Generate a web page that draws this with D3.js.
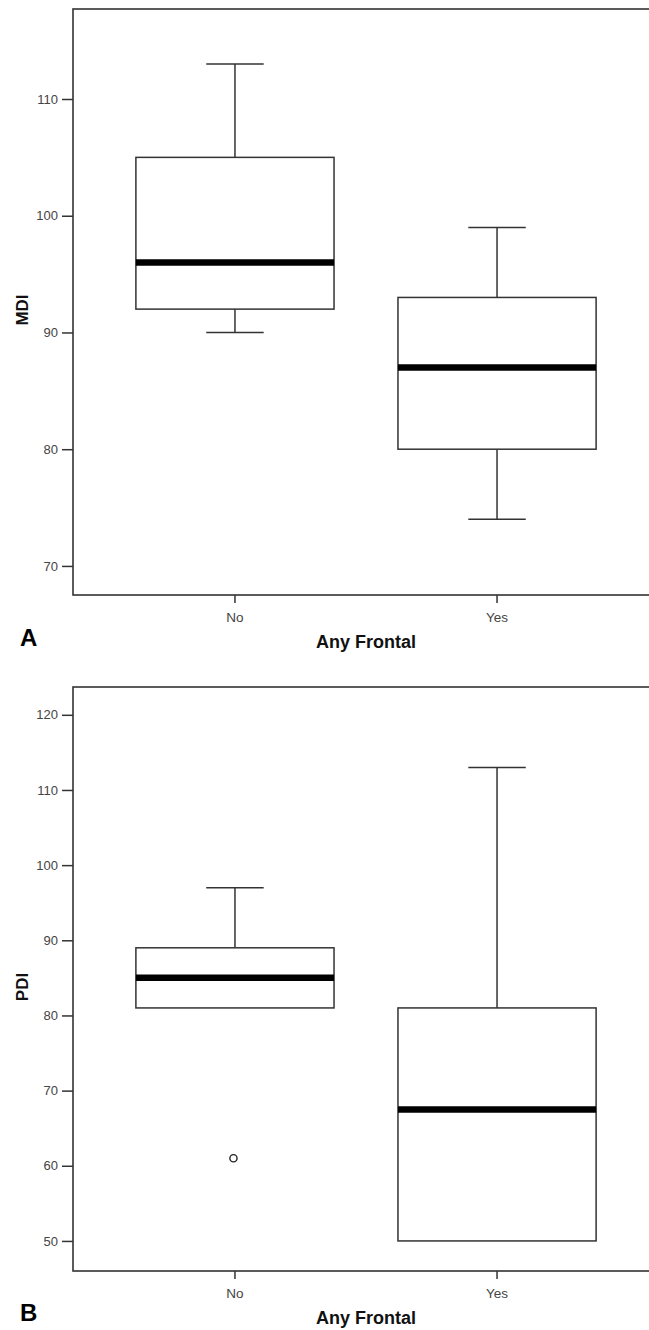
<!DOCTYPE html>
<html><head><meta charset="utf-8">
<script src="https://cdn.jsdelivr.net/npm/d3@7"></script>
<style>
html,body{margin:0;padding:0;background:#fff;}
svg{display:block;}
</style>
</head><body>
<svg id="chart" width="649" height="1330"></svg>
<script>
const categories = ["No", "Yes"];

// Panel A: MDI
const mdiMin = [90, 74];
const mdiQ1 = [92, 80];
const mdiMedian = [96, 87];
const mdiQ3 = [105, 93];
const mdiMax = [113, 99];
const mdiOutliers = [];
const mdiTicks = [70, 80, 90, 100, 110];

// Panel B: PDI
const pdiMin = [81, 50];
const pdiQ1 = [81, 50];
const pdiMedian = [85, 67.5];
const pdiQ3 = [89, 81];
const pdiMax = [97, 113];
const pdiOutliers = [{cat: "No", value: 61}];
const pdiTicks = [50, 60, 70, 80, 90, 100, 110, 120];

const svg = d3.select("#chart");
const frameColor = "#333";

function panel(cfg) {
  const g = svg.append("g");
  const x = d3.scaleBand().domain(categories).range([cfg.left, cfg.right])
    .paddingInner(0.244).paddingOuter(0.24);
  const y = d3.scaleLinear().domain(cfg.domain).range([cfg.bottom, cfg.top]);

  // y axis
  const ya = g.append("g").attr("transform", `translate(${cfg.left},0)`)
    .call(d3.axisLeft(y).tickValues(cfg.ticks).tickSize(11).tickPadding(4).tickFormat(d3.format("d")));
  ya.select(".domain").remove();
  ya.selectAll(".tick line").attr("stroke", frameColor).attr("stroke-width", 1.5);
  ya.selectAll(".tick text").attr("fill", "#444").style("font-family", "Liberation Sans, Arial, sans-serif").style("font-size", "13px");

  // x axis
  const xa = g.append("g").attr("transform", `translate(0,${cfg.bottom})`)
    .call(d3.axisBottom(x).tickSize(8).tickPadding(9));
  xa.select(".domain").remove();
  xa.selectAll(".tick line").attr("stroke", frameColor).attr("stroke-width", 1.5);
  xa.selectAll(".tick text").attr("fill", "#444").style("font-family", "Liberation Sans, Arial, sans-serif").style("font-size", "13.5px");

  // frame
  g.append("rect").attr("x", cfg.left).attr("y", cfg.top)
    .attr("width", cfg.right - cfg.left).attr("height", cfg.bottom - cfg.top)
    .attr("fill", "none").attr("stroke", frameColor).attr("stroke-width", 1.6);

  const bw = x.bandwidth();
  const capW = bw * 0.29;
  categories.forEach((c, i) => {
    const cx = x(c) + bw / 2;
    const bg = g.append("g");
    // whiskers
    if (cfg.max[i] > cfg.q3[i]) {
      bg.append("line").attr("x1", cx).attr("x2", cx).attr("y1", y(cfg.q3[i])).attr("y2", y(cfg.max[i]));
      bg.append("line").attr("x1", cx - capW / 2).attr("x2", cx + capW / 2).attr("y1", y(cfg.max[i])).attr("y2", y(cfg.max[i]));
    }
    if (cfg.min[i] < cfg.q1[i]) {
      bg.append("line").attr("x1", cx).attr("x2", cx).attr("y1", y(cfg.q1[i])).attr("y2", y(cfg.min[i]));
      bg.append("line").attr("x1", cx - capW / 2).attr("x2", cx + capW / 2).attr("y1", y(cfg.min[i])).attr("y2", y(cfg.min[i]));
    }
    bg.append("rect").attr("x", x(c)).attr("width", bw)
      .attr("y", y(cfg.q3[i])).attr("height", y(cfg.q1[i]) - y(cfg.q3[i]))
      .attr("fill", "#fff");
    bg.selectAll("line,rect").attr("stroke", frameColor).attr("stroke-width", 1.5);
    bg.append("line").attr("x1", x(c)).attr("x2", x(c) + bw)
      .attr("y1", y(cfg.median[i])).attr("y2", y(cfg.median[i]))
      .attr("stroke", "#000").attr("stroke-width", 6.5);
  });
  cfg.outliers.forEach(o => {
    g.append("circle").attr("cx", x(o.cat) + bw / 2 - 1.5).attr("cy", y(o.value)).attr("r", 3.6)
      .attr("fill", "#fff").attr("stroke", "#222").attr("stroke-width", 1.4);
  });

  // y label
  g.append("text").attr("transform", `translate(${cfg.ylabX},${(cfg.top + cfg.bottom) / 2 + 8}) rotate(-90)`)
    .attr("text-anchor", "middle").attr("font-family", "Liberation Sans, Arial, sans-serif")
    .attr("font-weight", "bold").attr("font-size", 17).attr("fill", "#111").text(cfg.ylabel);
  // x label
  g.append("text").attr("x", 366).attr("y", cfg.xlabY).attr("text-anchor", "middle")
    .attr("font-family", "Liberation Sans, Arial, sans-serif").attr("font-weight", "bold")
    .attr("font-size", 18).attr("fill", "#111").text("Any Frontal");
  // panel letter
  g.append("text").attr("x", 20).attr("y", cfg.letterY)
    .attr("font-family", "Liberation Sans, Arial, sans-serif").attr("font-weight", "bold")
    .attr("font-size", 24).attr("fill", "#000").text(cfg.letter);
}

panel({left: 73, right: 659, top: 9, bottom: 595, domain: [67.51, 117.71],
  ticks: mdiTicks, min: mdiMin, q1: mdiQ1, median: mdiMedian, q3: mdiQ3, max: mdiMax,
  outliers: mdiOutliers, ylabel: "MDI", ylabX: 28, xlabY: 648, letter: "A", letterY: 646});

panel({left: 73, right: 659, top: 687, bottom: 1271, domain: [46.0, 123.7],
  ticks: pdiTicks, min: pdiMin, q1: pdiQ1, median: pdiMedian, q3: pdiQ3, max: pdiMax,
  outliers: pdiOutliers, ylabel: "PDI", ylabX: 28, xlabY: 1324, letter: "B", letterY: 1321});
</script>
</body></html>
